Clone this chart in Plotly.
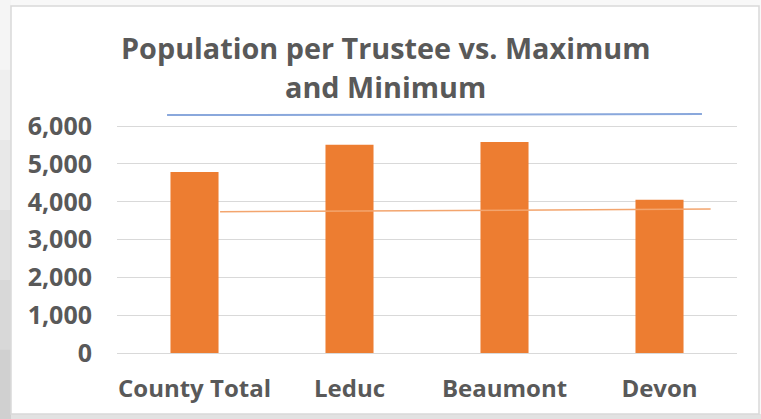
import plotly.graph_objects as go

categories = ["County Total", "Leduc", "Beaumont", "Devon"]
population_per_trustee = [4790, 5505, 5580, 4050]

# reference lines (drawn in the source as slightly sloped lines across the chart)
max_line_x = [-0.177, 3.274]
max_line_y = [6291, 6318]
min_line_x = [0.165, 3.33]
min_line_y = [3735, 3806]

y_ticks = [0, 1000, 2000, 3000, 4000, 5000, 6000]
y_tick_labels = ["0", "1,000", "2,000", "3,000", "4,000", "5,000", "6,000"]

title_line1 = "Population per Trustee vs. Maximum"
title_line2 = "and Minimum"

FONT = "Open Sans"
TXT = "#595959"

# plot-area geometry in pixels (used only to place decorative frame shapes)
L, R, T, B = 117, 737, 111, 353
PW, PH = R - L, B - T


def px(x):
    return (x - L) / PW


def py(y):
    return (B - y) / PH


fig = go.Figure()

fig.add_trace(go.Scatter(x=min_line_x, y=min_line_y, mode="lines",
                         line=dict(color="#f3a56e", width=1.5),
                         hoverinfo="skip", showlegend=False))
fig.add_trace(go.Bar(x=list(range(len(categories))), y=population_per_trustee,
                     marker=dict(color="#ed7d31", line=dict(width=0)),
                     width=0.31, showlegend=False))
fig.add_trace(go.Scatter(x=max_line_x, y=max_line_y, mode="lines",
                         line=dict(color="#8aa8dc", width=2),
                         hoverinfo="skip", showlegend=False))

shapes = []
# left strip: vertical grey gradient, lighter at top
greys = ["#f5f5f5", "#efefef", "#e8e8e8", "#e0e0e0", "#d8d8d8", "#d0d0d0"]
n = len(greys)
for i, g in enumerate(greys):
    shapes.append(dict(type="rect", xref="paper", yref="paper",
                       x0=px(0), x1=px(11),
                       y0=py(419 * (i + 1) / n), y1=py(419 * i / n),
                       fillcolor=g, line=dict(width=0), layer="below"))
# bottom strip
shapes.append(dict(type="rect", xref="paper", yref="paper",
                   x0=px(11), x1=px(761), y0=py(419), y1=py(414),
                   fillcolor="#e2e2e2", line=dict(width=0), layer="below"))
# chart box
shapes.append(dict(type="rect", xref="paper", yref="paper",
                   x0=px(11), x1=px(759), y0=py(414), y1=py(6),
                   fillcolor="white", line=dict(color="#d9d9d9", width=1.5), layer="below"))

annotations = [
    dict(text=f"<b>{title_line1}</b>", xref="paper", yref="paper",
         x=px(385), y=py(47), xanchor="center", yanchor="middle",
         showarrow=False, font=dict(family=FONT, size=28.8, color=TXT)),
    dict(text=f"<b>{title_line2}</b>", xref="paper", yref="paper",
         x=px(385), y=py(86), xanchor="center", yanchor="middle",
         showarrow=False, font=dict(family=FONT, size=28.8, color=TXT)),
]

fig.update_layout(
    width=761, height=419,
    margin=dict(l=L, r=761 - R, t=T, b=419 - B),
    paper_bgcolor="#f8f8f8", plot_bgcolor="rgba(0,0,0,0)",
    shapes=shapes, annotations=annotations,
    xaxis=dict(range=[-0.5, 3.5], tickmode="array",
               tickvals=list(range(len(categories))), ticktext=[f"<b>{c}</b>" for c in categories],
               tickfont=dict(family=FONT, size=24, color=TXT),
               showgrid=False, zeroline=False, showline=True, linecolor="#d9d9d9", linewidth=1,
               ticks="", ticklabelstandoff=14, fixedrange=True),
    yaxis=dict(range=[0, 6400], tickmode="array", tickvals=y_ticks,
               ticktext=[f"<b>{t}</b>" for t in y_tick_labels],
               tickfont=dict(family=FONT, size=25, color=TXT),
               showgrid=True, gridcolor="#d9d9d9", gridwidth=1,
               zeroline=False, showline=False, ticks="", ticklabelstandoff=24,
               fixedrange=True),
)

fig.write_html("out.html", config={"displayModeBar": False},
               post_script="document.body.style.margin='0';document.body.style.overflow='hidden';")
